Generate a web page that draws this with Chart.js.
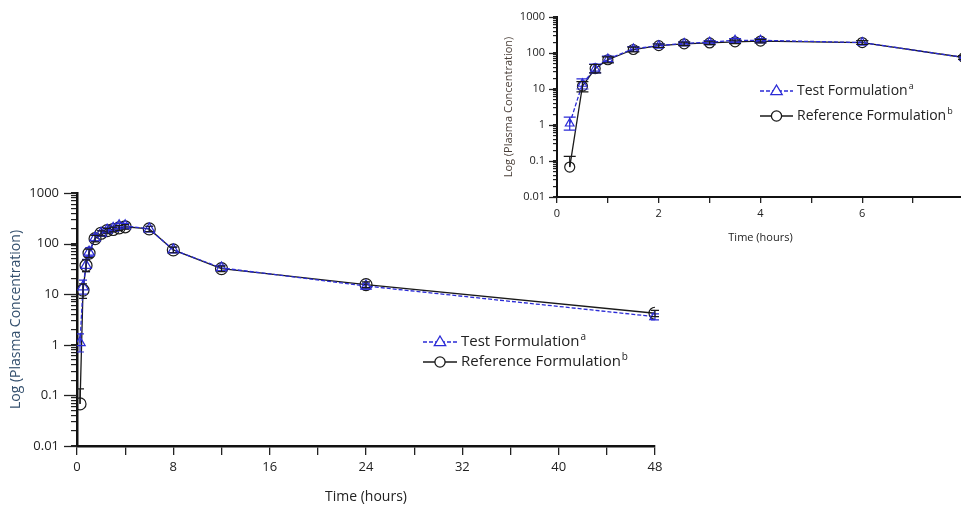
<!DOCTYPE html>
<html>
<head>
<meta charset="utf-8">
<script src="https://cdn.jsdelivr.net/npm/chart.js@4.4.1/dist/chart.umd.min.js"></script>
<style>
html, body { margin: 0; padding: 0; background: #fff; overflow: hidden; width: 961px; height: 509px; }
#main { position: absolute; left: 0; top: 170px; }
#inset { position: absolute; left: 490px; top: 0; }
</style>
</head>
<body>
<canvas id="main" width="680" height="339"></canvas>
<canvas id="inset" width="500" height="250"></canvas>
<script>
// sampling times (hours)
const times = [0.25, 0.5, 0.75, 1, 1.5, 2, 2.5, 3, 3.5, 4, 6, 8, 12, 24, 48];
// test formulation: mean and error bar ends
const testMean = [1.1, 14, 37, 68, 130, 160, 185, 200, 225, 225, 195, 75, 33, 14.5, 3.6];
const testLow  = [0.72, 10, 28, 56, 112, 142, 165, 180, 200, 200, 172, 66, 29, 12.8, 3.1];
const testHigh = [1.65, 19, 49, 82, 150, 180, 205, 222, 250, 250, 220, 85, 37, 16.5, 4.1];
// reference formulation
const refMean = [0.068, 12, 37, 65, 125, 160, 180, 190, 205, 215, 195, 75, 32, 15.5, 4.2];
const refLow  = [0.068, 8.3, 28, 53, 108, 142, 160, 170, 182, 192, 172, 66, 28, 13.5, 3.6];
const refHigh = [0.135, 16, 48, 78, 145, 178, 200, 212, 228, 238, 220, 85, 36, 17.5, 4.8];
// axis ticks
const yMajor = [0.01, 0.1, 1, 10, 100, 1000];
const legendNames = ['Test Formulation', 'Reference Formulation'];
const legendSup = ['a', 'b'];

const FONT = "'Open Sans', 'Noto Sans', sans-serif";
const testColor = '#2b2bd6';
const refColor = '#1a1a1a';

// minor log ticks 1..9 x 10^n between majors
const yTicks = [];
yMajor.forEach((m, i) => {
  if (i === yMajor.length - 1) { yTicks.push(m); return; }
  for (let k = 1; k <= 9; k++) yTicks.push(+(m * k).toPrecision(3));
});

const pts = (ys) => times.map((t, i) => ({ x: t, y: ys[i] }));

const errorBars = {
  id: 'errorBars',
  afterDatasetsDraw(chart, args, opts) {
    const { ctx, chartArea } = chart;
    const x = chart.scales.x, y = chart.scales.y;
    ctx.save();
    ctx.beginPath();
    ctx.rect(chartArea.left, chartArea.top - 10, chartArea.width + 10, chartArea.height + 10);
    ctx.clip();
    chart.data.datasets.forEach(ds => {
      ctx.strokeStyle = ds.borderColor;
      ctx.lineWidth = opts.width;
      ctx.setLineDash([]);
      ds.data.forEach((p, i) => {
        const px = x.getPixelForValue(p.x);
        const lo = y.getPixelForValue(ds.errLow[i]);
        const hi = y.getPixelForValue(ds.errHigh[i]);
        const c = opts.cap / 2;
        ctx.beginPath();
        ctx.moveTo(px, lo); ctx.lineTo(px, hi);
        ctx.moveTo(px - c, hi); ctx.lineTo(px + c, hi);
        if (ds.errLow[i] < p.y) { ctx.moveTo(px - c, lo); ctx.lineTo(px + c, lo); }
        ctx.stroke();
      });
    });
    ctx.restore();
  }
};

const majorTicks = {
  id: 'majorTicks',
  afterDraw(chart, args, opts) {
    const { ctx, chartArea } = chart;
    const y = chart.scales.y;
    ctx.save();
    ctx.strokeStyle = '#222';
    ctx.lineWidth = opts.width;
    yMajor.forEach(v => {
      const py = Math.round(y.getPixelForValue(v)) + 0.5;
      ctx.beginPath();
      ctx.moveTo(chartArea.left - opts.length, py);
      ctx.lineTo(chartArea.left, py);
      ctx.stroke();
    });
    ctx.restore();
  }
};

const insideLegend = {
  id: 'insideLegend',
  afterDraw(chart, args, o) {
    const { ctx } = chart;
    ctx.save();
    chart.data.datasets.forEach((ds, i) => {
      const yy = o.y + i * o.gap;
      ctx.strokeStyle = ds.borderColor;
      ctx.lineWidth = 1.3;
      ctx.setLineDash(ds.borderDash || []);
      ctx.beginPath();
      ctx.moveTo(o.x, yy); ctx.lineTo(o.x + o.len, yy);
      ctx.stroke();
      ctx.setLineDash([]);
      const cx = o.x + o.len / 2, r = o.r;
      ctx.beginPath();
      if (ds.pointStyle === 'triangle') {
        ctx.moveTo(cx, yy - r); ctx.lineTo(cx + r * 0.95, yy + r * 0.6); ctx.lineTo(cx - r * 0.95, yy + r * 0.6); ctx.closePath();
      } else {
        ctx.arc(cx, yy, r * 0.85, 0, Math.PI * 2);
      }
      ctx.fillStyle = '#fff';
      ctx.fill();
      ctx.stroke();
      ctx.fillStyle = '#222';
      ctx.textBaseline = 'middle';
      ctx.font = o.size + 'px ' + FONT;
      const tx = o.x + o.len + 4;
      ctx.fillText(legendNames[i], tx, yy);
      const w = ctx.measureText(legendNames[i]).width;
      ctx.font = Math.round(o.size * 0.65) + 'px ' + FONT;
      ctx.fillText(legendSup[i], tx + w + 1, yy - o.size * 0.3);
    });
    ctx.restore();
  }
};

function makeChart(id, s) {
  const ctx = document.getElementById(id).getContext('2d');
  return new Chart(ctx, {
    type: 'line',
    data: {
      datasets: [
        {
          label: legendNames[0], data: pts(testMean), errLow: testLow, errHigh: testHigh,
          borderColor: testColor, backgroundColor: 'rgba(0,0,0,0)', borderWidth: 1.3, borderDash: [4, 2],
          pointStyle: 'triangle', pointRadius: s.r, pointBorderWidth: 1.2, pointBorderColor: testColor,
          pointBackgroundColor: 'rgba(0,0,0,0)'
        },
        {
          label: legendNames[1], data: pts(refMean), errLow: refLow, errHigh: refHigh,
          borderColor: refColor, backgroundColor: 'rgba(0,0,0,0)', borderWidth: 1.3,
          pointStyle: 'circle', pointRadius: s.r, pointBorderWidth: 1.2, pointBorderColor: refColor,
          pointBackgroundColor: 'rgba(0,0,0,0)'
        }
      ]
    },
    options: {
      responsive: false,
      animation: false,
      layout: { padding: { top: s.padTop, right: s.padRight, left: 0, bottom: 0 } },
      plugins: {
        legend: { display: false },
        tooltip: { enabled: false },
        errorBars: { width: 1.2, cap: s.cap },
        majorTicks: { length: s.majorLen, width: 1.3 },
        insideLegend: s.legend
      },
      scales: {
        x: {
          type: 'linear', min: 0, max: s.xMax,
          afterFit: (sc) => { sc.height = s.xHeight; },
          border: { color: '#111', width: s.axisW },
          grid: { drawOnChartArea: false, tickLength: s.xTickLen, color: '#222', lineWidth: 1.3 },
          ticks: {
            stepSize: s.xStep, autoSkip: false, maxRotation: 0, padding: s.xPad,
            color: '#222', font: { family: FONT, size: s.tickSize },
            callback: (v) => (v % s.xLabelEvery === 0 ? String(v) : '')
          },
          title: {
            display: true, text: 'Time (hours)', color: '#222',
            font: { family: FONT, size: s.titleSize }, padding: { top: 0, bottom: s.xTitlePad }
          }
        },
        y: {
          type: 'logarithmic', min: 0.01, max: 1000,
          afterBuildTicks: (sc) => { sc.ticks = yTicks.map(v => ({ value: v })); },
          afterFit: (sc) => { sc.width = s.yWidth; },
          border: { color: '#111', width: s.axisW },
          grid: { drawOnChartArea: false, tickLength: s.yTickLen, color: '#222', lineWidth: 1.2 },
          ticks: {
            autoSkip: false, padding: s.yPad, color: '#222', font: { family: FONT, size: s.tickSize },
            callback: (v) => (yMajor.includes(v) ? String(v) : '')
          },
          title: {
            display: true, text: 'Log (Plasma Concentration)', color: s.yTitleColor,
            font: { family: FONT, size: s.titleSize }, padding: { top: s.yTitlePad, bottom: 0 }
          }
        }
      }
    },
    plugins: [errorBars, majorTicks, insideLegend]
  });
}

makeChart('main', {
  r: 6, cap: 8, padTop: 23, padRight: 25, xMax: 48, xStep: 4, xLabelEvery: 8,
  xHeight: 63, yWidth: 77, axisW: 2.5, xTickLen: 9, yTickLen: 6, majorLen: 13,
  xPad: 4, yPad: 12, tickSize: 13, titleSize: 14, xTitlePad: 4, yTitlePad: 8,
  yTitleColor: '#34506e',
  legend: { x: 423, y: 172, gap: 20, len: 34, r: 6, size: 15 }
});

makeChart('inset', {
  r: 5, cap: 12, padTop: 17, padRight: 26, xMax: 8, xStep: 1, xLabelEvery: 2,
  xHeight: 53, yWidth: 67, axisW: 2, xTickLen: 6, yTickLen: 4, majorLen: 8,
  xPad: 4, yPad: 8, tickSize: 11, titleSize: 11, xTitlePad: 6, yTitlePad: 12,
  yTitleColor: '#4a3f38',
  legend: { x: 270, y: 91, gap: 25, len: 33, r: 6, size: 14 }
});
</script>
</body>
</html>
